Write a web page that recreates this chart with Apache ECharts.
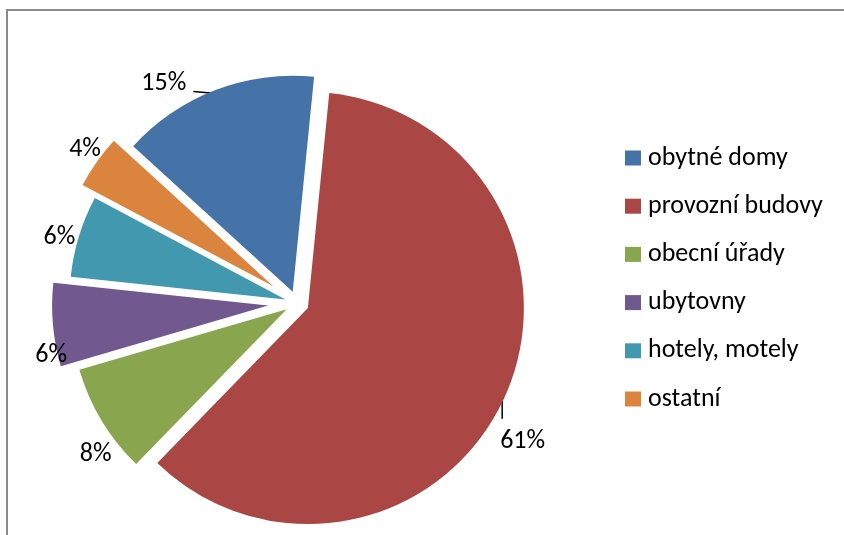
<!DOCTYPE html>
<html>
<head>
<meta charset="utf-8">
<script src="https://cdn.jsdelivr.net/npm/echarts@6/dist/echarts.min.js"></script>
<style>
  html, body { margin: 0; padding: 0; background: #fff; }
  #chart { width: 844px; height: 535px; }
</style>
</head>
<body>
<div id="chart"></div>
<script>
// categories and shares (%), labels show them rounded
var categories = ['obytné domy', 'provozní budovy', 'obecní úřady', 'ubytovny', 'hotely, motely', 'ostatní'];
var shares = [14.8, 60.7, 8.2, 6.2, 6.1, 4.0];
var colors = ['#4572A7', '#AA4643', '#89A54E', '#71588F', '#4198AF', '#DB843D'];
// slices pulled further out of the pie (drawn by a second, overlaid series)
var farOut = [false, false, false, true, false, true];
// label nudges [dx, dy] so labels sit where Excel put them
var labelNudge = [[-12, -1], [-24, 40], [30, 31], [35, 30], [17, 3], [24, -9]];

var font = 'Carlito, Lato, sans-serif';
var hidden = 'rgba(0,0,0,0)';

var chart = echarts.init(document.getElementById('chart'));

function buildData(far) {
    return categories.map(function (name, i) {
        var visible = farOut[i] === far;
        return {
            name: name,
            value: shares[i],
            selected: visible,
            itemStyle: { color: visible ? colors[i] : hidden },
            label: { show: visible },
            labelLine: { show: visible && i < 2 }
        };
    });
}

function labelLayout(params) {
    var n = labelNudge[params.dataIndex];
    var r = params.labelRect;
    var out = { dx: n[0], dy: n[1] };
    var x = r.x + n[0], y = r.y + n[1];
    if (params.dataIndex === 0) {
        // short, almost flat leader to the right of the text
        out.labelLinePoints = [
            [x + r.width + 30, y + r.height - 3],
            [x + r.width + 7, y + r.height - 5],
            [x + r.width + 7, y + r.height - 5]
        ];
    } else if (params.dataIndex === 1) {
        // vertical leader above the text
        out.labelLinePoints = [
            [x + 2, y - 30],
            [x + 2, y - 10],
            [x + 2, y - 10]
        ];
    }
    return out;
}

function pieSeries(far, offset) {
    return {
        type: 'pie',
        center: [297, 303],
        radius: 216,
        startAngle: 137.6,
        clockwise: true,
        selectedMode: 'multiple',
        selectedOffset: offset,
        silent: true,
        itemStyle: { borderWidth: 0 },
        select: { itemStyle: { borderWidth: 0 } },
        emphasis: { disabled: true },
        label: {
            position: 'outside',
            formatter: function (p) { return Math.round(p.percent) + '%'; },
            fontFamily: font,
            fontSize: 26,
            color: '#000'
        },
        labelLine: {
            length: 6,
            length2: 10,
            lineStyle: { color: '#000', width: 1.5 }
        },
        labelLayout: labelLayout,
        data: buildData(far)
    };
}

chart.setOption({
    animation: false,
    graphic: [{
        type: 'rect',
        shape: { x: 7, y: 10, width: 900, height: 600 },
        style: { fill: 'none', stroke: '#898989', lineWidth: 2 },
        silent: true
    }],
    legend: {
        orient: 'vertical',
        left: 620,
        top: 140,
        itemWidth: 16,
        itemHeight: 15,
        itemGap: 22.2,
        itemStyle: { borderWidth: 0 },
        selectedMode: false,
        textStyle: { fontFamily: font, fontSize: 26, color: '#000', lineHeight: 26, padding: [0, 0, 0, 2] },
        data: categories.map(function (name, i) {
            return { name: name, icon: 'rect', itemStyle: { color: colors[i] } };
        })
    },
    series: [pieSeries(false, 12), pieSeries(true, 29)]
});
</script>
</body>
</html>
